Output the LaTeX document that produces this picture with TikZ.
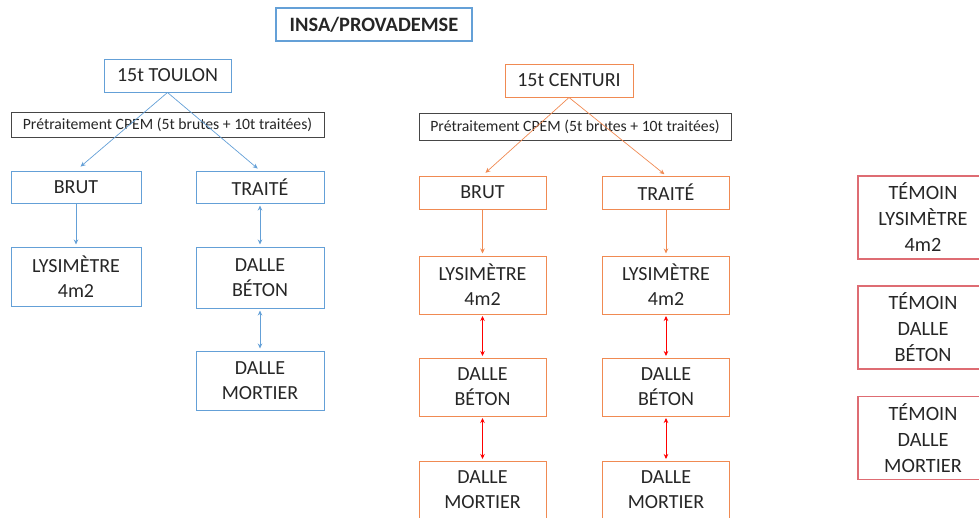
\documentclass[tikz,border=0pt]{standalone}
\usepackage{fontspec}
\setmainfont{Carlito}
\usetikzlibrary{arrows.meta}

\definecolor{toulonblue}{RGB}{100,160,215}
\definecolor{centuriorange}{RGB}{240,138,82}
\definecolor{temoinred}{RGB}{222,108,115}
\definecolor{cpemgray}{RGB}{70,70,70}

\begin{document}
\begin{tikzpicture}[x=1pt, y=-1pt, >={Stealth[length=5pt,width=4.5pt]},
  every box/.style={draw, line width=1pt, align=center, inner sep=0pt,
    text=black!85, font=\fontsize{20}{25}\selectfont},
  toulon box/.style={every box, draw=toulonblue},
  centuri box/.style={every box, draw=centuriorange},
  temoin box/.style={every box, draw=temoinred, line width=1.2pt, minimum width=130, minimum height=83,
    font=\fontsize{20.3}{26}\selectfont},
  cpem box/.style={every box, draw=cpemgray, font=\fontsize{15.7}{18}\selectfont},
  toulon arrow/.style={toulonblue, line width=0.7pt},
  centuri arrow/.style={centuriorange, line width=0.7pt},
  link arrow/.style={red, line width=0.7pt}]

  \path[use as bounding box, clip] (0,0) rectangle (979,517);

  % titre
  \node [every box, draw=toulonblue, line width=1.6pt, minimum width=196, minimum height=33,
    font=\bfseries\fontsize{20.4}{22}\selectfont] (insa) at (374,24.5) {INSA/PROVADEMSE};

  % branche Toulon
  \node [toulon box, minimum width=127, minimum height=33] (toulon) at (167.5,75.5) {15t TOULON};
  \node [cpem box, minimum width=313, minimum height=25] (cpem-t) at (167.5,124.5)
    {Prétraitement CPEM (5t brutes + 10t traitées)};
  \node [toulon box, minimum width=130, minimum height=32] (brut-t) at (76,187) {BRUT};
  \node [toulon box, minimum width=128, minimum height=32] (traite-t) at (260,187) {TRAITÉ};
  \node [toulon box, minimum width=130, minimum height=59] (lysi-t) at (76,276.5) {LYSIMÈTRE\\4m2};
  \node [toulon box, minimum width=128, minimum height=61] (beton-t) at (260,277.5) {DALLE\\BÉTON};
  \node [toulon box, minimum width=128, minimum height=59] (mortier-t) at (260,380.5) {DALLE\\MORTIER};

  \draw [->, toulon arrow, shorten >=6pt] (toulon.south) -- (brut-t.north);
  \draw [->, toulon arrow, shorten >=3pt] (toulon.south) -- (traite-t.north);
  \draw [->, toulon arrow, shorten >=2pt] (brut-t) -- (lysi-t);
  \draw [<->, toulon arrow, shorten >=2pt, shorten <=2pt] (traite-t) -- (beton-t);
  \draw [<->, toulon arrow, shorten >=2pt, shorten <=2pt] (beton-t) -- (mortier-t);

  % branche Centuri
  \node [centuri box, minimum width=128, minimum height=33] (centuri) at (569,80.5) {15t CENTURI};
  \node [cpem box, minimum width=312, minimum height=27] (cpem-c) at (575,126.5)
    {Prétraitement CPEM (5t brutes + 10t traitées)};

  \foreach \m/\l [count=\i] in {brut/BRUT, traite/TRAITÉ} {
    \pgfmathsetmacro\cx{299+\i*183.5}
    \node [centuri box, minimum width=127, minimum height=33] (\m-c) at (\cx,192.5) {\l};
    \node [centuri box, minimum width=127, minimum height=58] (lysi-\m) at (\cx,285) {LYSIMÈTRE\\4m2};
    \node [centuri box, minimum width=127, minimum height=58] (beton-\m) at (\cx,387) {DALLE\\BÉTON};
    \node [centuri box, minimum width=127, minimum height=58] (mortier-\m) at (\cx,490) {DALLE\\MORTIER};

    \draw [->, centuri arrow, shorten >=2pt] (\m-c) -- (lysi-\m);
    \draw [<->, link arrow, shorten >=1.5pt, shorten <=1.5pt] (lysi-\m) -- (beton-\m);
    \draw [<->, link arrow, shorten >=1.5pt, shorten <=1.5pt] (beton-\m) -- (mortier-\m);
  }

  \draw [->, centuri arrow, shorten >=4pt] (centuri.south) -- (brut-c.north);
  \draw [->, centuri arrow, shorten >=2pt] (centuri.south) -- (traite-c.north);

  % temoins
  \foreach \t/\y [count=\i] in {{LYSIMÈTRE\\4m2}/217.5, {DALLE\\BÉTON}/327.5, {DALLE\\MORTIER}/438}
    \node [temoin box] (temoin-\i) at (923,\y) {TÉMOIN\\\t};

\end{tikzpicture}
\end{document}
